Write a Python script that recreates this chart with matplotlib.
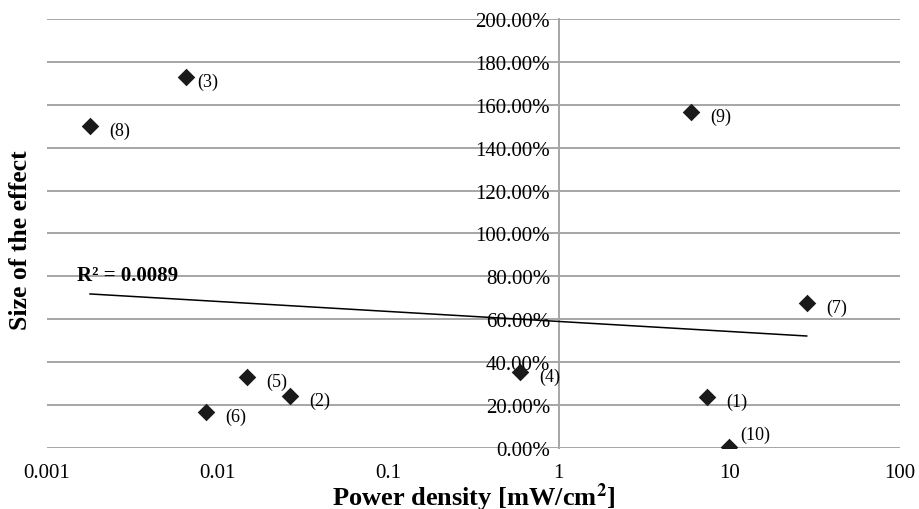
import numpy as np
import matplotlib.pyplot as plt
from matplotlib.ticker import FuncFormatter

plt.rcParams['font.family'] = ['Liberation Serif', 'DejaVu Serif']
plt.rcParams['mathtext.fontset'] = 'stix'

# study labels, power density [mW/cm2], size of effect [%]
labels = ['(1)', '(2)', '(3)', '(4)', '(5)', '(6)', '(7)', '(8)', '(9)', '(10)']
power = [7.39, 0.0266, 0.00653, 0.593, 0.0149, 0.00855, 28.5, 0.00179, 5.96, 9.95]
effect = [23.8, 24.2, 173.0, 35.4, 33.1, 16.8, 67.6, 150.0, 156.6, 0.5]

# logarithmic trend line as shown: y = slope * log10(x) + intercept
trend_slope = -4.665
trend_intercept = 59.0
r2_text = 'R² = 0.0089'

fig = plt.figure(figsize=(9.19, 5.10), dpi=100)
ax = fig.add_axes([0.051, 0.1196, 0.928, 0.8412])

x = np.array(power)
y = np.array(effect)

ax.scatter(x, y, marker='D', s=80, color='#1a1a1a', zorder=4, linewidths=0)

# label offsets in points
offsets = {'(3)': (8, -3), '(10)': (8, 9)}
for lab, xi, yi in zip(labels, x, y):
    dx, dy = offsets.get(lab, (14, -3))
    ax.annotate(lab, (xi, yi), xytext=(dx, dy), textcoords='offset points',
                fontsize=13, va='center', ha='left', zorder=5)

xt = np.array([x.min(), x.max()])
ax.plot(xt, trend_slope * np.log10(xt) + trend_intercept, color='black', lw=1.1, zorder=3)
ax.text(0.0015, 80.5, r2_text, fontsize=15, fontweight='bold', ha='left', va='center', zorder=5)

ax.set_xscale('log')
ax.set_xlim(0.001, 100)
ax.set_ylim(0, 200)
ax.set_yticks(np.arange(0, 201, 20))
ax.set_xticks([0.001, 0.01, 0.1, 1, 10, 100])
ax.xaxis.set_major_formatter(FuncFormatter(lambda v, p: ('%g' % v)))
ax.yaxis.set_major_formatter(FuncFormatter(lambda v, p: '%.2f%%' % v))
ax.minorticks_off()

ax.grid(axis='y', color='#a6a6a6', lw=1.4, zorder=1)
for s in ['top', 'right', 'bottom']:
    ax.spines[s].set_visible(False)
ax.spines['left'].set_position(('data', 1))
ax.spines['left'].set_color('#a6a6a6')
ax.spines['left'].set_linewidth(1.4)
ax.tick_params(axis='both', length=0, labelsize=15)
ax.tick_params(axis='y', pad=6)
ax.tick_params(axis='x', pad=11)
for t in ax.get_yticklabels():
    t.set_zorder(2)

ax.set_xlabel(r'Power density [mW/cm$^{\mathbf{2}}$]', fontsize=19, fontweight='bold')
ax.set_ylabel('Size of the effect', fontsize=18.5, fontweight='bold')
ax.xaxis.label.set_va('center')
ax.yaxis.label.set_va('center')
ax.xaxis.set_label_coords(0.5, -0.113)
ax.yaxis.set_label_coords(-0.0305, 0.487)

fig.savefig('out.png', dpi=100)
